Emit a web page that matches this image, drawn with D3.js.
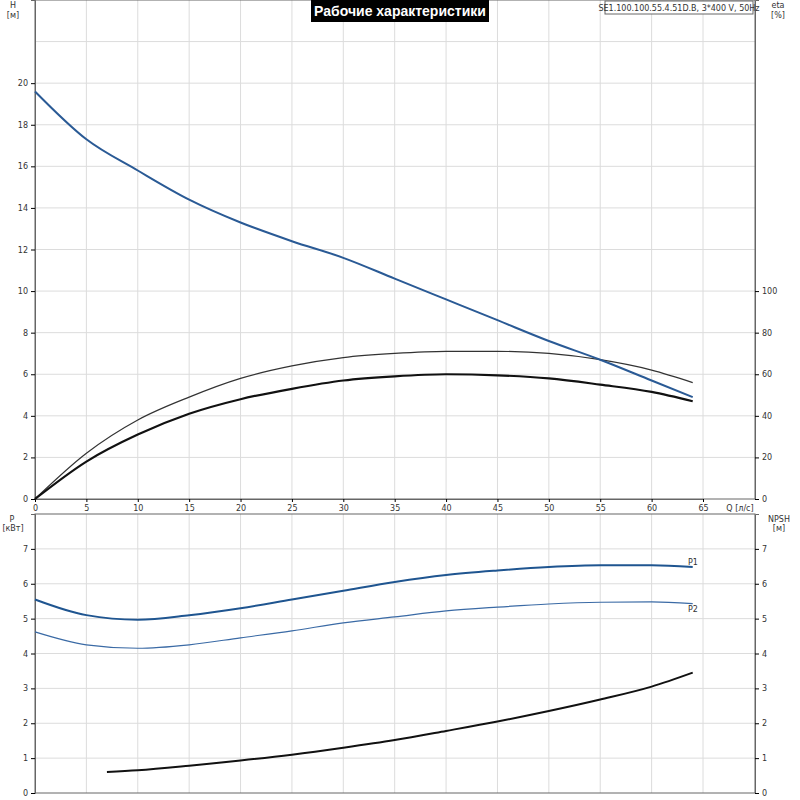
<!DOCTYPE html><html><head><meta charset="utf-8"><script src="https://cdn.jsdelivr.net/npm/d3@7"></script>
<style>body{margin:0;background:#fff}text{font-family:"DejaVu Sans",Arial,sans-serif;font-size:8px;fill:#333}</style></head><body><svg id="c" width="800" height="800"></svg><script>
const qTicks=[0,5,10,15,20,25,30,35,40,45,50,55,60,65];
const hTicks=[0,2,4,6,8,10,12,14,16,18,20];
const etaTicks=[0,20,40,60,80,100];
const pTicks=[0,1,2,3,4,5,6,7];
const qH=[0,5,10,15,20,25,30,35,40,45,50,55,60,64];
const H=[19.6,17.3,15.8,14.4,13.3,12.4,11.6,10.6,9.6,8.6,7.6,6.7,5.7,4.9];
const qE=[0,5,10,15,20,25,30,35,40,45,50,55,60,64];
const etaPump=[0,22,38,49,58,64,68,70,71,71,70,67,62,56];
const etaTot=[0,18,31,41,48,53,57,59,60,59.5,58,55,51.5,47];
const qP=[0,5,10,15,20,25,30,35,40,45,50,55,60,64];
const P1=[5.55,5.1,4.97,5.1,5.3,5.55,5.8,6.05,6.25,6.38,6.48,6.53,6.53,6.48];
const P2=[4.62,4.25,4.15,4.25,4.45,4.65,4.88,5.05,5.22,5.33,5.42,5.47,5.48,5.43];
const qN=[7,10,15,20,25,30,35,40,45,50,55,60,64];
const NPSH=[0.6,0.65,0.78,0.93,1.1,1.3,1.52,1.78,2.05,2.35,2.68,3.05,3.45];
const svg=d3.select("#c");
const L=35,R=755;
const x=d3.scaleLinear().domain([0,70]).range([L,L+720*70/70]);
const x2=d3.scaleLinear().domain([0,65]).range([35,703]);
const yH=d3.scaleLinear().domain([0,24]).range([499,0]);
const yE=d3.scaleLinear().domain([0,240]).range([499,0]);
const yP=d3.scaleLinear().domain([0,8]).range([793,514]);
const grid="#dcdcdc";
function panel(y,ticks,top,bot){
  svg.append("g").selectAll("line").data(ticks.filter(t=>t>0)).join("line").attr("x1",L).attr("x2",R).attr("y1",d=>y(d)).attr("y2",d=>y(d)).attr("stroke",grid);
  svg.append("g").selectAll("line").data(qTicks.filter(t=>t>0)).join("line").attr("x1",d=>x2(d)).attr("x2",d=>x2(d)).attr("y1",top).attr("y2",bot).attr("stroke",grid);
  svg.append("rect").attr("x",L).attr("y",top).attr("width",R-L).attr("height",bot-top).attr("fill","none").attr("stroke","#666");
}
panel(yH,[...hTicks,22],0,499);
panel(yP,pTicks,514,793);
const lAx=svg.append("g").attr("transform",`translate(${L},0)`).call(d3.axisLeft(yH).tickValues(hTicks).tickSize(4));
const rAx=svg.append("g").attr("transform",`translate(${R},0)`).call(d3.axisRight(yE).tickValues(etaTicks).tickSize(4));
const bAx=svg.append("g").attr("transform",`translate(0,499)`).call(d3.axisBottom(x2).tickValues(qTicks).tickSize(3));
const pl=svg.append("g").attr("transform",`translate(${L},0)`).call(d3.axisLeft(yP).tickValues(pTicks).tickSize(4));
const pr=svg.append("g").attr("transform",`translate(${R},0)`).call(d3.axisRight(yP).tickValues(pTicks).tickSize(4));
svg.selectAll(".domain").attr("stroke","#666");
svg.selectAll(".tick text").style("font-size","8px").attr("fill","#333");
function curve(xs,ys,y,col,w){
  svg.append("path").datum(xs.map((q,i)=>[q,ys[i]])).attr("fill","none").attr("stroke",col).attr("stroke-width",w)
   .attr("d",d3.line().x(d=>x2(d[0])).y(d=>y(d[1])).curve(d3.curveMonotoneX));
}
curve(qE,etaPump,yE,"#333",1.2);
curve(qE,etaTot,yE,"#111",2.2);
curve(qH,H,yH,"#2a5a95",2);
curve(qP,P1,yP,"#1f5590",2);
curve(qP,P2,yP,"#3a6aa5",1.2);
curve(qN,NPSH,yP,"#111",2);
const t=(s,xx,yy,a)=>svg.append("text").attr("x",xx).attr("y",yy).attr("text-anchor",a||"middle").text(s);
t("H",13,8);t("[м]",13,18);t("eta",778,8);t("[%]",778,18);
t("P",12,522);t("[кВт]",13,531);t("NPSH",779,522);t("[м]",779,531);
t("Q [л/с]",740,511,"middle");
t("P1",693,565);t("P2",693,612);
svg.append("rect").attr("x",311).attr("y",0).attr("width",178).attr("height",22).attr("fill","#000");
svg.append("text").attr("x",400).attr("y",16).attr("text-anchor","middle").style("font-size","14px").style("font-weight","bold").style("fill","#fff").style("font-family","Liberation Sans Narrow, Arial").text("Рабочие характеристики");
svg.append("rect").attr("x",605).attr("y",1).attr("width",148).attr("height",13).attr("fill","#fff").attr("stroke","#666");
t("SE1.100.100.55.4.51D.B, 3*400 V, 50Hz",679,11);
</script></body></html>
